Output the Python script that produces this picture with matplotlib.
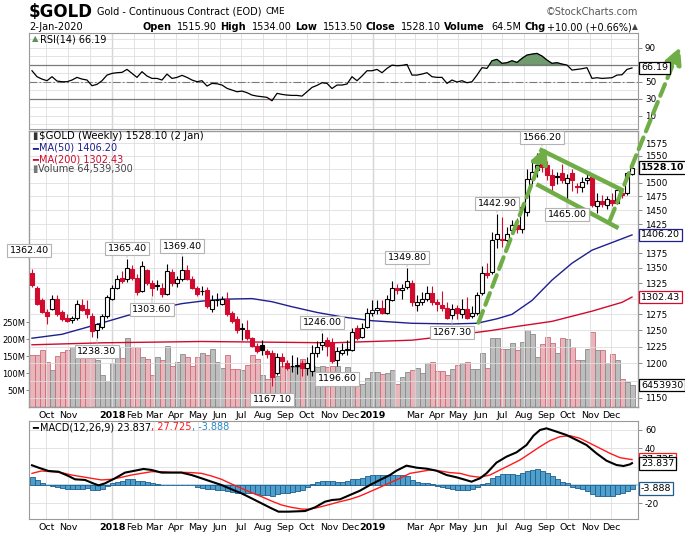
import matplotlib
matplotlib.use('Agg')
import matplotlib.pyplot as plt
import matplotlib.transforms as mtransforms
from matplotlib.ticker import FixedLocator, NullLocator, FuncFormatter
import numpy as np
import pandas as pd

plt.rcParams['axes.unicode_minus'] = False

W, H = 685, 534
first_week = pd.Timestamp('2017-09-11')

# weekly candles, Sep 2017 .. Jan 2020
opens = [1342, 1317, 1297, 1278, 1284, 1300, 1279, 1270, 1266, 1270,
         1290, 1284, 1272, 1251, 1256, 1273, 1300, 1317, 1334, 1331,
         1348, 1334, 1312, 1346, 1325, 1320, 1317, 1307, 1344, 1326,
         1332, 1346, 1332, 1317, 1312, 1314, 1284, 1297, 1292, 1299,
         1277, 1268, 1253, 1251, 1238, 1226, 1227, 1219, 1215, 1186,
         1210, 1201, 1196, 1197, 1200, 1193, 1189, 1215, 1227, 1235,
         1232, 1205, 1216, 1220, 1220, 1253, 1240, 1256, 1277, 1282,
         1285, 1277, 1298, 1317, 1314, 1319, 1326, 1290, 1294, 1299,
         1309, 1294, 1290, 1285, 1274, 1285, 1276, 1284, 1272, 1277,
         1309, 1341, 1343, 1400, 1400, 1397, 1414, 1423, 1416, 1446,
         1507, 1524, 1545, 1533, 1514, 1512, 1518, 1500, 1518, 1494,
         1492, 1505, 1512, 1458, 1466, 1459, 1468, 1463, 1481, 1481,
         1515.9]
highs = [1348, 1321, 1301, 1283, 1305, 1306, 1282, 1275, 1272, 1297,
         1299, 1297, 1277, 1262, 1275, 1306, 1322, 1338, 1345, 1365.4,
         1355, 1340, 1362, 1348, 1330, 1330, 1325, 1356, 1349, 1337,
         1369.4, 1355, 1336, 1320, 1320, 1318, 1305, 1309, 1304, 1310,
         1280, 1272, 1262, 1266, 1240, 1230, 1236, 1222, 1220, 1215,
         1215, 1205, 1212, 1210, 1205, 1210, 1228, 1233, 1246, 1240,
         1238, 1225, 1230, 1236, 1254, 1258, 1262, 1285, 1298, 1298,
         1297, 1305, 1328, 1323, 1324, 1349.8, 1330, 1305, 1310, 1320,
         1321, 1300, 1313, 1295, 1292, 1289, 1300, 1303, 1288, 1310,
         1353, 1359, 1411, 1442.9, 1438, 1420, 1432, 1435, 1462, 1526,
         1545, 1555, 1566.2, 1540, 1525, 1520, 1535, 1516, 1525, 1500,
         1510, 1516, 1515, 1480, 1478, 1475, 1480, 1490, 1487, 1520,
         1534]
lows = [1318, 1290, 1277, 1260, 1282, 1273, 1265, 1263, 1261, 1266,
        1280, 1270, 1240, 1238.3, 1252, 1270, 1298, 1315, 1326, 1327,
        1330, 1306, 1310, 1322, 1303.6, 1314, 1303, 1305, 1320, 1318,
        1328, 1330, 1315, 1304, 1305, 1285, 1279, 1288, 1289, 1272,
        1261, 1246, 1236, 1235, 1224, 1215, 1212, 1208, 1167.1, 1183,
        1195, 1190, 1187, 1185, 1181, 1183, 1182, 1210, 1220, 1211,
        1200, 1196.6, 1213, 1212, 1218, 1236, 1238, 1254, 1273, 1276,
        1275, 1275, 1296, 1307, 1299, 1316, 1288, 1281, 1290, 1296,
        1290, 1280, 1281, 1268, 1267.3, 1268, 1270, 1268, 1269, 1274,
        1306, 1334, 1340, 1383, 1386, 1390, 1410, 1410, 1410, 1440,
        1497, 1510, 1520, 1505, 1485, 1497, 1500, 1465, 1485, 1480,
        1483, 1497, 1456, 1445, 1455, 1452, 1458, 1460, 1472, 1478,
        1513.5]
closes = [1322, 1292, 1279, 1272, 1299, 1275, 1268, 1264, 1270, 1292,
          1282, 1276, 1249, 1260, 1273, 1303, 1317, 1331, 1328, 1350,
          1334, 1310, 1353, 1325, 1317, 1322, 1307, 1345, 1325, 1332,
          1346, 1332, 1317, 1308, 1313, 1288, 1297, 1298, 1299, 1275,
          1265, 1250, 1252, 1238, 1226, 1218, 1220, 1214, 1180, 1209,
          1203, 1194, 1197, 1198, 1193, 1201, 1216, 1224, 1232, 1226,
          1203, 1218, 1220, 1222, 1247, 1238, 1253, 1277, 1282, 1285,
          1277, 1300, 1317, 1314, 1317, 1329, 1294, 1295, 1299, 1309,
          1294, 1292, 1285, 1270, 1284, 1277, 1284, 1270, 1277, 1305,
          1341, 1338, 1397, 1408, 1397, 1408, 1423, 1416, 1455, 1507,
          1520, 1533, 1530, 1514, 1495, 1511, 1505, 1509, 1505, 1492,
          1501, 1509, 1459, 1466, 1461, 1470, 1463, 1486, 1477, 1518,
          1528.1]
volume_m = [152, 152, 167, 131, 110, 149, 161, 167, 176, 164,
            152, 143, 143, 137, 95, 77, 128, 173, 143, 202,
            176, 176, 146, 140, 95, 146, 137, 179, 122, 131,
            155, 146, 122, 146, 158, 152, 170, 131, 116, 152,
            113, 113, 110, 125, 152, 140, 95, 83, 158, 92,
            122, 119, 119, 119, 140, 122, 122, 119, 122, 119,
            122, 122, 101, 119, 104, 68, 68, 86, 104, 104,
            98, 101, 110, 68, 89, 104, 110, 116, 101, 128,
            131, 107, 107, 95, 113, 125, 128, 131, 113, 113,
            158, 116, 202, 202, 170, 170, 187, 167, 190, 226,
            214, 146, 185, 205, 187, 158, 202, 199, 176, 137,
            137, 170, 220, 167, 167, 128, 155, 137, 83, 74,
            64.54]

ma50_wk = [0, 6, 12, 19, 25, 30, 34, 38, 44, 48, 52, 57, 62, 68, 76, 84,
           89, 93, 96, 100, 104, 108, 112, 116, 120]
ma50 = [1238, 1244, 1257, 1273, 1284, 1292, 1296, 1299, 1300, 1295, 1287,
        1278, 1271, 1265, 1261, 1260, 1261, 1268, 1275, 1297, 1330, 1358,
        1380, 1393, 1406.2]
ma200_wk = [0, 14, 34, 60, 68, 76, 84, 92, 96, 104, 112, 118, 120]
ma200 = [1228, 1231, 1233, 1231, 1233, 1235, 1242, 1250, 1255, 1264, 1280,
         1294, 1302.43]

rsi = [62.9, 55.9, 53.1, 51.2, 55.9, 50.8, 50.0, 50.0, 52.0, 55.1,
       53.1, 52.0, 45.3, 46.9, 51.2, 57.8, 59.8, 60.6, 61.0, 64.5,
       59.8, 55.1, 61.8, 56.7, 53.9, 53.9, 52.0, 59.0, 53.9, 55.1,
       57.5, 55.1, 52.0, 50.0, 51.2, 44.9, 48.0, 47.6, 46.1, 42.2,
       40.2, 38.2, 39.0, 37.1, 34.3, 33.1, 32.4, 31.6, 27.6, 36.3,
       35.1, 34.3, 33.9, 33.9, 33.1, 38.2, 43.3, 45.7, 48.8, 48.0,
       42.0, 46.1, 46.1, 47.3, 55.9, 51.2, 56.7, 62.9, 62.9, 64.5,
       60.6, 65.7, 69.5, 68.8, 69.2, 70.3, 57.8, 57.8, 59.0, 60.6,
       55.9, 55.1, 55.1, 48.0, 52.0, 49.6, 51.2, 48.8, 50.0, 57.8,
       66.5, 65.7, 74.7, 76.3, 71.6, 72.4, 74.7, 72.7, 77.5, 81.4,
       82.5, 83.3, 80.2, 75.5, 71.6, 72.4, 70.8, 69.6, 63.7, 64.5,
       65.3, 66.5, 53.9, 54.7, 53.9, 54.3, 54.7, 57.8, 58.2, 64.5,
       66.19]

macd_hist = [9.0, 5.5, 2.5, 0.0, -0.7, -1.8, -3.6, -4.4, -4.7, -4.4,
             -4.0, -3.6, -5.5, -5.8, -4.4, -1.1, 1.8, 3.3, 4.7, 6.2,
             6.2, 4.0, 4.7, 3.3, 2.2, 0.7, -0.4, 0.4, -0.4, -0.4,
             0.0, 0.0, -0.4, -1.8, -2.9, -4.4, -4.7, -5.1, -5.5, -6.5,
             -7.3, -8.4, -8.4, -8.4, -9.1, -9.8, -10.9, -10.9, -11.6, -9.8,
             -9.1, -8.4, -7.3, -6.2, -5.5, -1.8, 0.7, 2.9, 4.0, 4.7,
             4.0, 3.6, 3.6, 4.4, 6.2, 6.2, 7.3, 9.8, 10.9, 10.9,
             10.9, 10.9, 10.9, 10.9, 10.9, 9.8, 5.5, 3.6, 2.5, 1.8,
             0.7, -0.7, -1.8, -3.6, -4.4, -5.5, -5.5, -5.5, -4.7, -1.8,
             1.1, 2.5, 7.3, 10.2, 11.6, 11.6, 11.6, 10.9, 13.5, 15.3,
             16.4, 17.1, 15.6, 12.7, 9.8, 6.2, 3.6, 1.8, -1.8, -3.6,
             -4.7, -6.2, -9.8, -12.0, -12.0, -12.0, -11.6, -9.8, -8.4, -6.2,
             -3.888]
macd_wk = [0, 1.3, 3.3, 5.3, 7.3, 8.6, 10.6, 11.9, 13.3, 14.6, 16.6, 18.6,
           20.6, 22.3, 23.9, 25.9, 27.9, 29.9, 31.9, 33.9, 35.9, 37.9, 39.9,
           41.9, 43.9, 45.9, 47.9, 49.3, 51.3, 54.6, 56.6, 58.6, 60, 61.6,
           63.6, 65.6, 67.6, 69.6, 71.6, 72.9, 74.9, 76.9, 78.9, 80.9, 82.9,
           84.9, 86.3, 87.9, 89.6, 90.9, 92.9, 94.9, 96.9, 98.9, 100.3,
           101.6, 102.9, 104.9, 106.9, 108.9, 110.9, 112.9, 114.9, 116.9,
           118.3, 119.6, 120]
macd_line = [21.5, 18.9, 15.3, 14.5, 9.8, 6.2, 5.5, 2.5, -0.4, 1.8, 7.3, 13.5,
             15.6, 17.5, 16.4, 13.5, 13.5, 13.5, 10.9, 7.3, 3.6, 0.0, -4.7,
             -9.1, -14.5, -20.0, -25.5, -29.1, -29.1, -28.4, -24.4, -18.2,
             -16.4, -15.6, -10.9, -6.2, 0.0, 5.5, 10.9, 15.6, 21.1, 18.9,
             17.8, 15.6, 10.9, 8.4, 6.2, 3.6, 7.3, 12.7, 24.4, 30.9, 35.6,
             43.6, 53.8, 60.0, 61.8, 58.2, 54.5, 49.1, 43.6, 34.5, 26.5,
             21.8, 20.7, 22.5, 23.837]
signal_wk = [0, 1.9, 3.9, 5.9, 7.9, 9.9, 11.9, 13.9, 15.9, 17.9, 19.9, 21.9,
             23.9, 25.9, 27.9, 29.9, 31.9, 33.9, 35.9, 37.9, 39.9, 41.9,
             43.9, 45.9, 47.9, 49.9, 51.9, 53.9, 55.3, 57.3, 59.5, 61.6,
             63.6, 65.6, 67.6, 69.6, 71.6, 73.6, 75.6, 77.6, 79.6, 81.6,
             83.6, 85.6, 87.6, 89.6, 91.6, 93.6, 95.6, 97.6, 99.6, 101.6,
             103.6, 105.6, 107.6, 109.6, 111.6, 113.6, 115.6, 117.6, 119.6,
             120]
signal_line = [12.7, 15.3, 14.5, 13.5, 10.9, 9.1, 7.3, 5.5, 6.2, 8.4, 10.9,
               12.7, 14.5, 14.5, 13.8, 13.8, 13.5, 12.7, 9.8, 6.2, 1.1, -3.6,
               -8.4, -12.7, -17.5, -21.8, -24.4, -26.2, -26.5, -24.4, -21.3,
               -18.2, -15.6, -12.0, -7.3, -2.5, 2.5, 7.3, 12.7, 14.5, 16.4,
               15.3, 13.5, 12.7, 9.8, 8.4, 10.9, 16.4, 21.8, 27.3, 34.5,
               41.8, 48.4, 52.7, 53.8, 50.9, 45.5, 40.0, 34.5, 29.8, 28.0,
               27.725]

# swing high / low price labels: (week, price, side)
swing_labels = [(-0.6, 1362.40, 'up'), (13, 1238.30, 'dn'), (19, 1365.40, 'up'),
                (24, 1303.60, 'dn'), (30, 1369.40, 'up'), (48, 1167.10, 'dn'),
                (58, 1246.00, 'up'), (61, 1196.60, 'dn'), (75, 1349.80, 'up'),
                (84, 1267.30, 'dn'), (93, 1442.90, 'up'), (102, 1566.20, 'up'),
                (107, 1465.00, 'dn')]

# hand-drawn green trend lines: (week, price) pairs
flag_upper = [(101.5, 1563), (118.3, 1485)]
flag_lower = [(100.9, 1497), (117.3, 1418)]
arrow_up1 = [(89.3, 1262), (102.8, 1568)]
arrow_up2 = [(115.6, 1432), (129.6, 1773)]

months = pd.date_range('2017-10-01', '2019-12-01', freq='MS')
hidden_months = [pd.Timestamp('2017-12-01'), pd.Timestamp('2019-02-01')]

# axis labels hidden behind the value tags on the right
hidden_price_ticks = [1175, 1300, 1400, 1525]

RED = '#d10a2e'
GREEN = '#70ad47'


def fx(px):
    return px / W


def fy(py):
    return 1 - py / H


fig = plt.figure(figsize=(W / 100, H / 100), dpi=100)
fig.patch.set_facecolor('white')
L, R = 29, 638


def add_panel(top, bottom):
    return fig.add_axes([fx(L), fy(bottom), (R - L) / W, (bottom - top) / H])


ax_rsi = add_panel(33, 129)
ax = add_panel(131, 407)
ax_macd = add_panel(421, 519)
vax = ax.twinx()

x = np.arange(len(closes))
o = np.array(opens)
c = np.array(closes)
hi = np.array(highs)
lo = np.array(lows)
prev = np.concatenate([[c[0] + 1], c[:-1]])
col = np.where(c < prev, RED, 'black')
face = np.where(c < o, col, 'white')

month_pos = [(m - first_week).days / 7 for m in months]
month_lab = []
for m in months:
    if m.month == 1:
        month_lab.append(str(m.year))
    elif m in hidden_months:
        month_lab.append('')
    else:
        month_lab.append(m.strftime('%b'))
year_pos = [p for p, m in zip(month_pos, months) if m.month == 1]

for a in (ax_rsi, ax, ax_macd):
    a.set_xlim(-0.6, 121.2)
    a.set_xticks(month_pos)
    a.set_xticklabels(month_lab)
    a.grid(True, which='both', color='#dedede', lw=0.6)
    a.set_axisbelow(True)
    for s in a.spines.values():
        s.set_color('#9a9a9a')
        s.set_linewidth(0.8)
    a.tick_params(axis='x', length=0, labelsize=6.8, pad=3)
    for yp in year_pos:
        a.axvline(yp, color='#b3b3b3', lw=0.9, zorder=0.5)
    for t in a.get_xticklabels():
        if t.get_text().isdigit():
            t.set_fontweight('bold')

ax_rsi.tick_params(axis='x', labelbottom=False)

# ---- RSI panel
ax_rsi.yaxis.tick_right()
ax_rsi.set_ylim(-5.6, 107.3)
ax_rsi.set_yticks([10, 30, 50, 70, 90])
ax_rsi.set_yticklabels(['10', '30', '50', '', '90'])
ax_rsi.set_yticks([0, 20, 40, 60, 80, 100], minor=True)
ax_rsi.tick_params(axis='y', which='major', length=3, width=0.6, color='#777',
                   labelsize=6.3, pad=2)
ax_rsi.tick_params(axis='y', which='minor', length=0)
rsi_a = np.array(rsi)
ax_rsi.axhline(70, color='#7a7a7a', lw=0.9, zorder=1)
ax_rsi.axhline(30, color='#7a7a7a', lw=0.9, zorder=1)
ax_rsi.axhline(50, color='#7a7a7a', lw=0.8, ls=(0, (7, 2, 1.5, 2)), zorder=1)
ax_rsi.fill_between(x, rsi_a, 70, where=rsi_a > 70, interpolate=True,
                    facecolor='#6f9b6f', edgecolor='#4e7a4e', lw=0.5, zorder=2)
ax_rsi.fill_between(x, rsi_a, 30, where=rsi_a < 30, interpolate=True,
                    facecolor='#d04545', lw=0, zorder=2)
ax_rsi.plot(x, rsi_a, color='black', lw=0.9, zorder=3)

# ---- price + volume panel
ax.yaxis.tick_right()
ax.yaxis.set_label_position('right')
vax.yaxis.tick_left()
vax.set_zorder(1)
ax.set_zorder(2)
ax.patch.set_visible(False)

ax.set_yscale('log')
ax.set_ylim(1137.3, 1598.5)
ax.yaxis.set_major_locator(FixedLocator(np.arange(1150, 1600, 25)))
ax.yaxis.set_major_formatter(FuncFormatter(
    lambda v, p: '' if round(v) in hidden_price_ticks else f'{v:.0f}'))
ax.yaxis.set_minor_locator(NullLocator())
ax.tick_params(axis='y', which='major', length=3, width=0.6, color='#777',
               labelsize=6.3, pad=2)

vol_face = np.where(col == RED, '#e8b5ba', '#bdbdbd')
vol_edge = np.where(col == RED, '#cf6a78', '#8a8a8a')
vax.bar(x, volume_m, width=1.0, color=vol_face, edgecolor=vol_edge, lw=0.6)
vax.set_ylim(0, 812)
vax.set_yticks([50, 100, 150, 200, 250])
vax.set_yticklabels(['50M', '100M', '150M', '200M', '250M'])
vax.tick_params(axis='y', length=2, width=0.6, color='#777', labelsize=6, pad=0.5)
vax.grid(False)

ax.plot(ma50_wk, ma50, color='#1f1f8f', lw=1.0, zorder=2)
ax.plot(ma200_wk, ma200, color=RED, lw=1.0, zorder=2)

ax.vlines(x, lo, hi, colors=col, lw=0.8, zorder=3)
ax.bar(x, np.abs(c - o), bottom=np.minimum(o, c), width=0.62,
       facecolor=face, edgecolor=col, lw=0.8, zorder=4)

for wk, p, side in swing_labels:
    dy = 7.5 if side == 'up' else -9.5
    ax.annotate(f'{p:.2f}', xy=(wk, p), xytext=(0, dy), textcoords='offset points',
                ha='center', va='center', fontsize=6.8, zorder=6,
                annotation_clip=False,
                bbox=dict(boxstyle='square,pad=0.22', fc='white', ec='#b3b3b3', lw=0.8),
                arrowprops=dict(arrowstyle='-', color='#b3b3b3', lw=0.6,
                                shrinkA=0, shrinkB=1))

# green channel and arrows
for seg in (flag_upper, flag_lower):
    (x0, y0), (x1, y1) = seg
    ax.plot([x0, x1], [y0, y1], color=GREEN, lw=3.2, solid_capstyle='butt', zorder=5)
for seg in (arrow_up1, arrow_up2):
    (x0, y0), (x1, y1) = seg
    ax.annotate('', xy=(x1, y1), xytext=(x0, y0), annotation_clip=False, zorder=5,
                arrowprops=dict(arrowstyle='-|>,head_length=0.7,head_width=0.35',
                                color=GREEN, lw=3, ls=(0, (3, 1.6)),
                                shrinkA=0, shrinkB=0, mutation_scale=14))

# ---- MACD panel
ax_macd.yaxis.tick_right()
ax_macd.set_ylim(-37.1, 69.8)
ax_macd.set_yticks([-20, 0, 20, 40, 60])
ax_macd.set_yticklabels(['-20', '', '', '40', '60'])
ax_macd.tick_params(axis='y', length=3, width=0.6, color='#777', labelsize=6.3, pad=2)
ax_macd.axhline(0, color='#a9d0ea', lw=1.2, zorder=1)
ax_macd.bar(x, macd_hist, width=1.0, color='#4f9fcd', edgecolor='#1f5e8c', lw=0.6,
            zorder=2)
ax_macd.plot(signal_wk, signal_line, color='#ff1a1a', lw=1.0, zorder=3)
ax_macd.plot(macd_wk, macd_line, color='black', lw=1.5, zorder=4)

# ---- right-hand value tags
def value_tag(axis, val, text, ec, bold=False, dy=0.0):
    tr = mtransforms.blended_transform_factory(fig.transFigure, axis.transData)
    t = fig.text(fx(641), val, text, transform=tr, ha='left', va='center',
                 fontsize=6.8, fontweight='bold' if bold else 'normal',
                 bbox=dict(boxstyle='square,pad=0.2', fc='white', ec=ec, lw=0.9))
    return t


value_tag(ax_rsi, 66.19, '66.19', 'black')
value_tag(ax, 1528.10, '1528.10', 'black', bold=True)
value_tag(ax, 1406.20, '1406.20', '#1f1f8f')
value_tag(ax, 1302.43, '1302.43', RED)
value_tag(vax, 64.5393, '6453930', 'black')
value_tag(ax_macd, 27.725, '27.725', '#ff1a1a')
value_tag(ax_macd, 23.837, '23.837', 'black')
value_tag(ax_macd, -3.888, '-3.888', '#1f5e8c')

# ---- header and legends
renderer = fig.canvas.get_renderer()


def write_row(x_px, y_px, pieces, right=False):
    seq = pieces[::-1] if right else pieces
    for text, style, gap in seq:
        t = fig.text(fx(x_px), fy(y_px), text, ha='right' if right else 'left',
                     va='center', **style)
        w = t.get_window_extent(renderer=renderer).width
        x_px = x_px - w - gap if right else x_px + w + gap


BOLD = dict(fontsize=7, fontweight='bold')
NORM = dict(fontsize=7)

write_row(29, 12, [('$GOLD', dict(fontsize=12, fontweight='bold',
                                  family=['Liberation Sans Narrow', 'DejaVu Sans']), 4),
                   ('Gold - Continuous Contract (EOD)', NORM, 4),
                   ('CME', dict(fontsize=6.5), 0)])
fig.text(fx(638), fy(12), '\u00a9StockCharts.com', ha='right', va='center',
         fontsize=7, color='#555555')
fig.text(fx(29), fy(27), '2-Jan-2020', ha='left', va='center', fontsize=7)
write_row(638, 27, [('Open', BOLD, 3), ('1515.90', NORM, 6),
                    ('High', BOLD, 3), ('1534.00', NORM, 6),
                    ('Low', BOLD, 3), ('1513.50', NORM, 6),
                    ('Close', BOLD, 3), ('1528.10', NORM, 6),
                    ('Volume', BOLD, 3), ('64.5M', NORM, 6),
                    ('Chg', BOLD, 3), ('+10.00 (+0.66%)', NORM, 2),
                    ('\u25b2', dict(fontsize=5.5, color='#444444'), 0)], right=True)

write_row(32, 39, [('\u25b2', dict(fontsize=6, color='#5e8f5e'), 1),
                   ('RSI(14) 66.19', NORM, 0)])

write_row(32, 136, [('\u25ae', dict(fontsize=7, color='#333333'), 2),
                    ('$GOLD (Weekly) 1528.10 (2 Jan)', dict(fontsize=7.3), 0)])
write_row(32, 148, [('\u2501', dict(fontsize=7, color='#1f1f8f'), 1),
                    ('MA(50) 1406.20', dict(fontsize=7, color='#1f1f8f'), 0)])
write_row(32, 159, [('\u2501', dict(fontsize=7, color=RED), 1),
                    ('MA(200) 1302.43', dict(fontsize=7, color=RED), 0)])
write_row(32, 169, [('\u25ae', dict(fontsize=7, color='#777777'), 1),
                    ('Volume 64,539,300', dict(fontsize=7, color='#444444'), 0)])

write_row(32, 427, [('\u2501', dict(fontsize=7, color='black'), 2),
                    ('MACD(12,26,9) 23.837', NORM, 0),
                    (', 27.725', dict(fontsize=7, color='#ff1a1a'), 0),
                    (', -3.888', dict(fontsize=7, color='#2a8ac4'), 0)])

fig.savefig('out.png', dpi=100)
